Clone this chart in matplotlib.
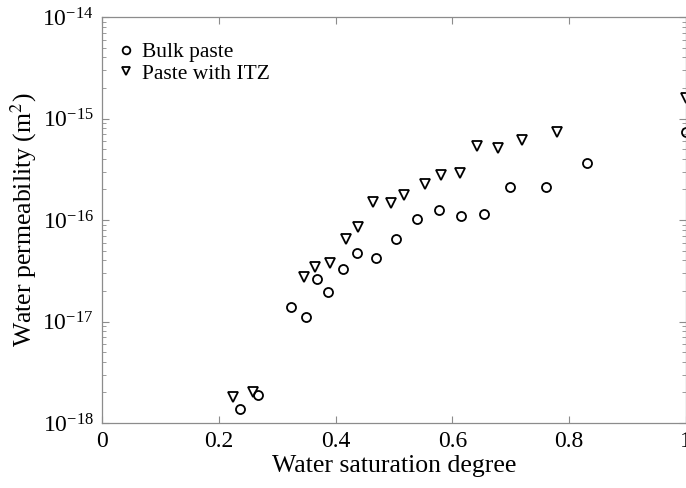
import matplotlib
matplotlib.use("Agg")
import matplotlib.pyplot as plt
import numpy as np
from matplotlib.ticker import LogLocator, NullFormatter, FixedLocator

plt.rcParams["font.family"] = ["Liberation Serif", "DejaVu Serif"]
plt.rcParams["mathtext.fontset"] = "stix"

# Bulk paste
bulk_sat = [0.236, 0.268, 0.323, 0.349, 0.368, 0.387, 0.413, 0.436, 0.469,
            0.504, 0.539, 0.578, 0.615, 0.655, 0.699, 0.760, 0.831, 1.0]
bulk_perm = [1.37e-18, 1.87e-18, 1.40e-17, 1.11e-17, 2.61e-17, 1.97e-17,
             3.27e-17, 4.77e-17, 4.20e-17, 6.45e-17, 1.03e-16, 1.26e-16,
             1.09e-16, 1.15e-16, 2.11e-16, 2.11e-16, 3.67e-16, 7.36e-16]

# Paste with ITZ
itz_sat = [0.225, 0.258, 0.346, 0.365, 0.390, 0.418, 0.438, 0.464, 0.495,
           0.518, 0.553, 0.581, 0.614, 0.643, 0.678, 0.720, 0.780, 1.0]
itz_perm = [1.79e-18, 2.00e-18, 2.72e-17, 3.47e-17, 3.74e-17, 6.50e-17,
            8.47e-17, 1.51e-16, 1.46e-16, 1.76e-16, 2.25e-16, 2.79e-16,
            2.90e-16, 5.32e-16, 5.15e-16, 6.18e-16, 7.41e-16, 1.58e-15]

x_ticks = [0, 0.2, 0.4, 0.6, 0.8, 1]
x_ticklabels = ["0", "0.2", "0.4", "0.6", "0.8", "1"]

fig = plt.figure(figsize=(6.86, 4.88), dpi=100)
ax = fig.add_axes([0.1487, 0.1332, 0.851, 0.8318])

ax.plot(bulk_sat, bulk_perm, linestyle="none", marker="o", markersize=6.5,
        markerfacecolor="none", markeredgecolor="black", markeredgewidth=1.3,
        label="Bulk paste")
ax.plot(itz_sat, itz_perm, linestyle="none", marker="v", markersize=7,
        markerfacecolor="none", markeredgecolor="black", markeredgewidth=1.3,
        label="Paste with ITZ")

ax.set_yscale("log")
ax.set_xlim(0, 1)
ax.set_ylim(1e-18, 1e-14)
ax.xaxis.set_major_locator(FixedLocator(x_ticks))
ax.set_xticklabels(x_ticklabels)
ax.yaxis.set_major_locator(LogLocator(base=10, numticks=10))
ax.yaxis.set_minor_locator(LogLocator(base=10, subs=np.arange(2, 10), numticks=20))
ax.yaxis.set_minor_formatter(NullFormatter())

for side in ax.spines.values():
    side.set_color("#8c8c8c")
    side.set_linewidth(0.9)
ax.tick_params(which="both", direction="in", top=True, right=True,
               color="#8c8c8c", labelsize=17, pad=6)
ax.tick_params(which="major", length=5)
ax.tick_params(which="minor", length=3)

ax.set_xlabel("Water saturation degree", fontsize=18.5, labelpad=2)
ax.set_ylabel("Water permeability (m$^2$)", fontsize=18.5, labelpad=2)

leg = ax.legend(loc="upper left", frameon=False, fontsize=15.5, handletextpad=0.35,
                handlelength=0.8, borderaxespad=0.3, labelspacing=0.05,
                bbox_to_anchor=(0.0, 0.975), markerscale=0.85)

fig.savefig("out.png", dpi=100)
